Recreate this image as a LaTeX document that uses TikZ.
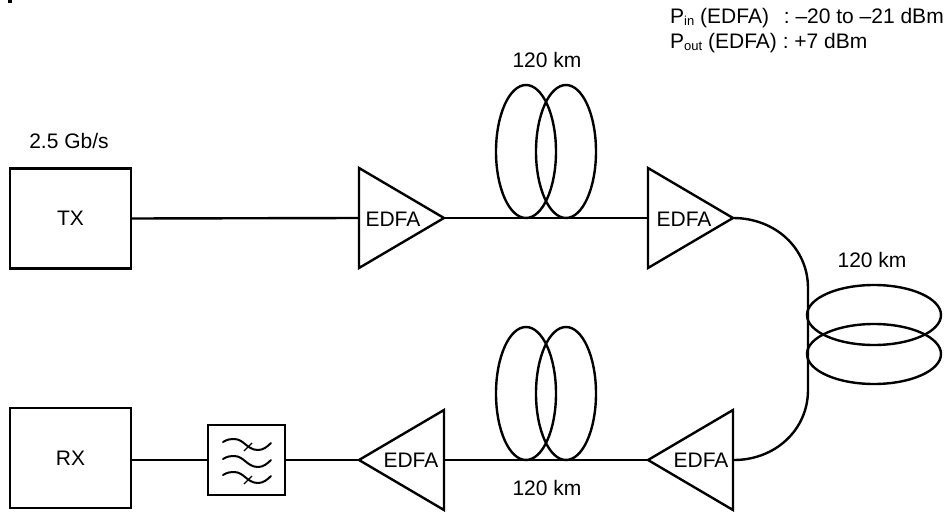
\documentclass[tikz,border=0pt]{standalone}
\usepackage{fontspec}
\setmainfont{Liberation Sans}
\usetikzlibrary{shapes.geometric}
\tikzset{
  x=1pt,y=-1pt,
  ln/.style={line width=2.4pt,line join=miter},
  box/.style={draw,ln,rectangle,inner sep=0pt,outer sep=0pt,font=\fontsize{21}{24}\selectfont},
  amp/.style={draw,ln,isosceles triangle,isosceles triangle stretches,inner sep=0pt,outer sep=0pt,minimum width=100pt,minimum height=85pt,anchor=apex},
  coilv/.style={draw,ln,ellipse,inner sep=0pt,outer sep=0pt,minimum width=60pt,minimum height=133pt},
  coilh/.style={draw,ln,ellipse,inner sep=0pt,outer sep=0pt,minimum width=134pt,minimum height=60pt},
  lbl/.style={inner sep=0pt,font=\fontsize{21}{24}\selectfont},
  sm/.style={inner sep=0pt,anchor=base west,font=\fontsize{21}{24}\selectfont},
  wave/.style={line width=2pt,line cap=round}
}
\newcommand{\sbs}[1]{\raisebox{-1.2pt}{\fontsize{13}{14}\selectfont #1}}
\begin{document}
\begin{tikzpicture}
\useasboundingbox (0,0) rectangle (951,516);
\fill (8,0) rectangle (12,3);
% boxes
\node[box,minimum width=121pt,minimum height=100pt] (tx) at (70.5,218.5) {TX};
\node[box,minimum width=121pt,minimum height=100pt] (rx) at (70.5,458) {RX};
\node[box,minimum width=77pt,minimum height=70pt] (flt) at (246.5,460) {};
% amplifiers
\node[amp] (a1) at (444,218) {};
\node[amp] (a2) at (733,218) {};
\node[amp,shape border rotate=180] (a3) at (648,460) {};
\node[amp,shape border rotate=180] (a4) at (359,460) {};
\node[lbl] (t1) at (393,219) {EDFA};
\node[lbl] (t2) at (684,219) {EDFA};
\node[lbl] (t3) at (701,460) {EDFA};
\node[lbl] (t4) at (411,460) {EDFA};
% coils
\node[coilv] (c1a) at (526,151.5) {};
\node[coilv] (c1b) at (566,151.5) {};
\node[coilv] (c2a) at (526,393.5) {};
\node[coilv] (c2b) at (566,393.5) {};
\node[coilh] (c3a) at (874,315) {};
\node[coilh] (c3b) at (874,354) {};
% connectors
\coordinate (a1in) at (359,218);
\coordinate (a2in) at (648,218);
\coordinate (a3out) at (734,460);
\coordinate (a4out) at (445,460);
\coordinate (rxin) at (131,460);
\draw[ln] (tx.east) -- (a1in);
\draw[ln] (a1.apex) -- (a2in);
\draw[ln] (a2.apex) .. controls (775,218) and (808,248) .. (808,288) -- (808,390) .. controls (808,430) and (775,460) .. (a3out);
\draw[ln] (a3.apex) -- (a4out);
\draw[ln] (a4.apex) -- (flt.east);
\draw[ln] (flt.west) -- (rxin);
% filter symbol
\foreach \d in {0,17,33}{
  \draw[wave] (223,442+\d) .. controls (228,439+\d) and (231,439+\d) .. (234,439+\d)
     .. controls (244,439+\d) and (247,450+\d) .. (258,450+\d)
     .. controls (263,450+\d) and (267,447+\d) .. (271,443+\d);
}
\draw[line width=1.2pt] (244,451) -- (252,443);
\draw[line width=1.2pt] (244,484) -- (252,476);
% labels
\node[lbl] (l0) at (69,141) {2.5 Gb/s};
\node[lbl] (l1) at (547,60) {120 km};
\node[lbl] (l2) at (547,488) {120 km};
\node[lbl] (l3) at (872,260) {120 km};
\node[sm] (p1) at (670,24) {P\sbs{in} (EDFA)\hspace{9pt} : –20 to –21 dBm};
\node[sm] (p2) at (670,49) {P\sbs{out} (EDFA) : +7 dBm};
\end{tikzpicture}
\end{document}
